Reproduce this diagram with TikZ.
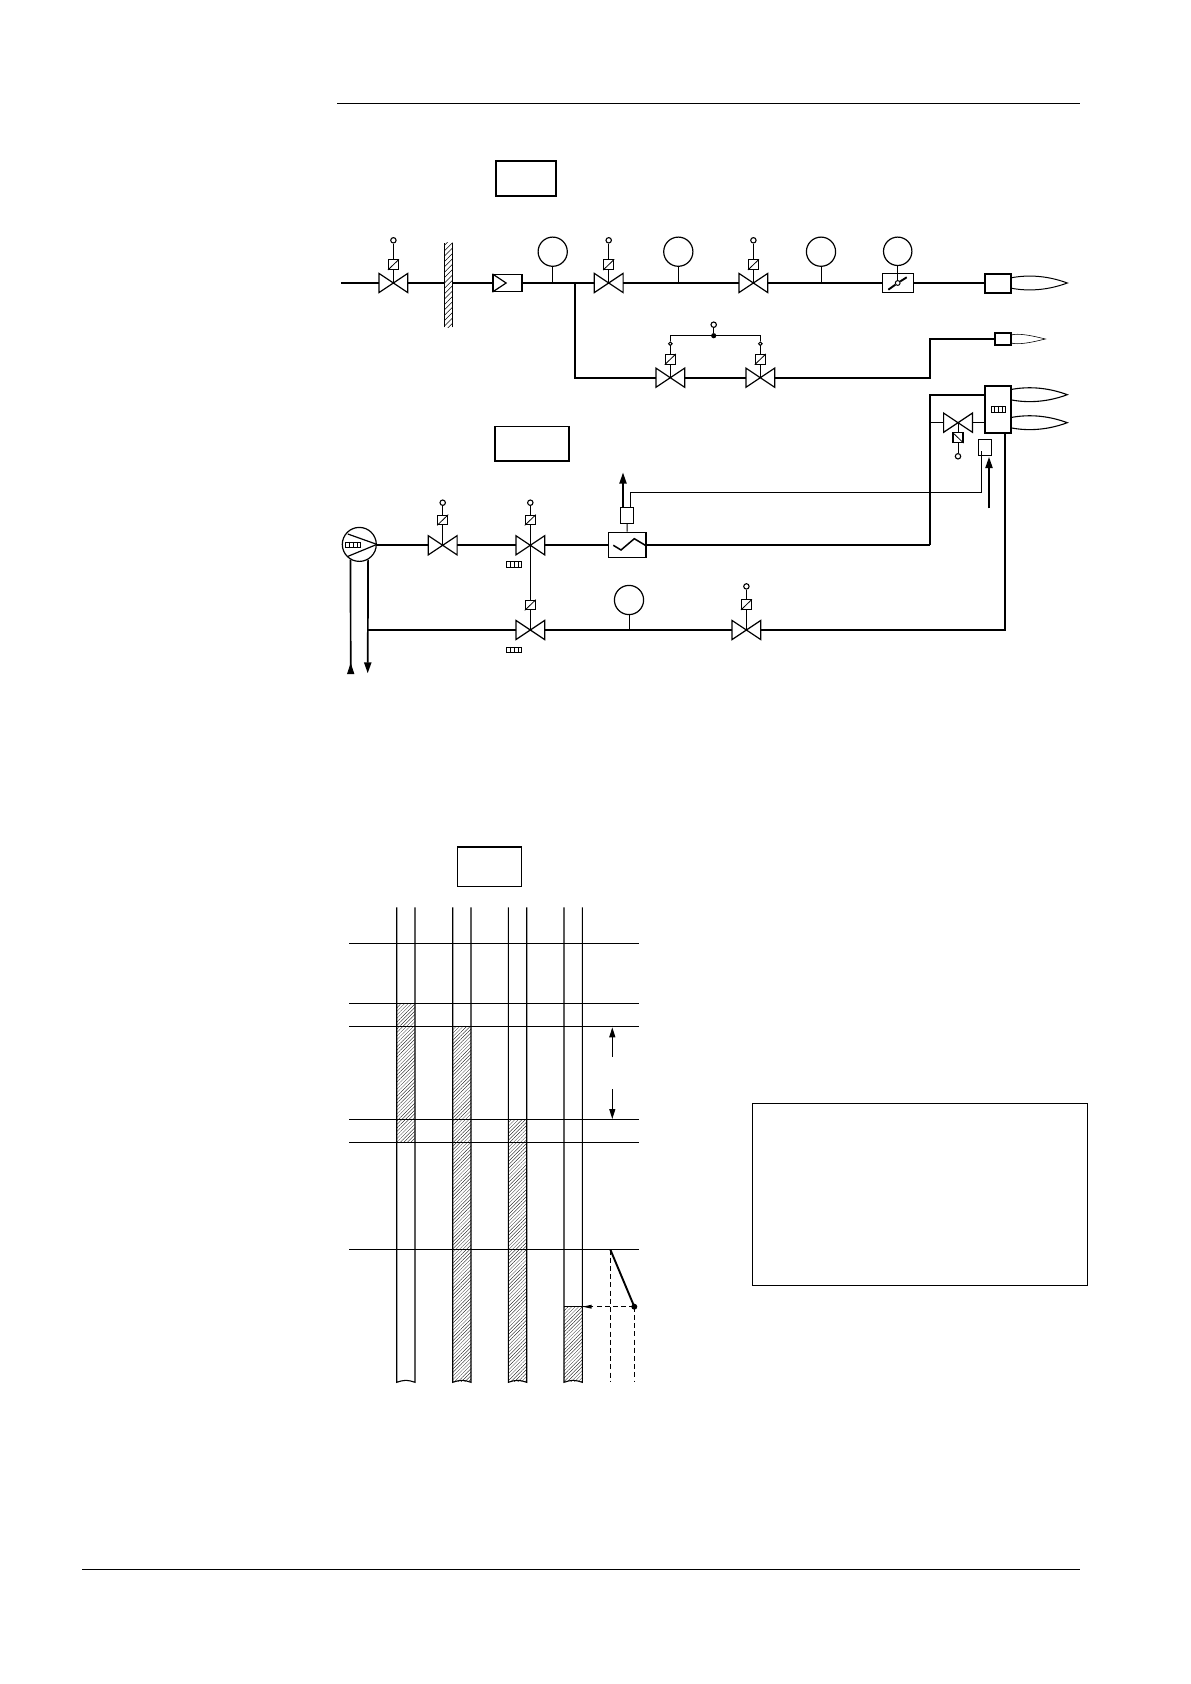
\documentclass[tikz,border=0pt]{standalone}
\usetikzlibrary{arrows.meta,patterns.meta,calc}
\tikzset{
 thinl/.style={line width=0.5pt,black},
 pipe/.style={line width=0.72pt,black},
 fat/.style={line width=0.85pt,black},
 rule/.style={line width=0.42pt,black},
 vbody/.style={inner sep=0pt,minimum width=14pt,minimum height=9.2pt},
 solbox/.style={draw,line width=0.55pt,inner sep=0pt,minimum width=5pt,minimum height=4.8pt},
 opencirc/.style={draw,circle,line width=0.55pt,inner sep=0pt,minimum size=2.7pt,fill=white},
 smallcirc/.style={draw,circle,line width=0.5pt,inner sep=0pt,minimum size=1.8pt,fill=white},
 gauge/.style={draw,circle,line width=0.6pt,inner sep=0pt,minimum size=14.6pt},
 dotn/.style={circle,fill=black,inner sep=0pt,minimum size=2.6pt},
 bankbox/.style={draw,line width=0.45pt,inner sep=0pt,minimum width=7.4pt,minimum height=2.8pt},
 rbox/.style={draw,rectangle,inner sep=0pt,line width=0.6pt},
 hatchfill/.style={pattern={Lines[angle=45,distance=1.25pt,line width=0.14pt]}},
 tip/.style={-{Triangle[length=5.5pt,width=3.6pt]}},
 smalltip/.style={-{Triangle[length=5pt,width=3pt]}},
 dashl/.style={line width=0.5pt,dash pattern=on 2.5pt off 1.6pt},
}
\newcommand{\valvesym}[3]{%
 \node[vbody] (#1) at (#2,#3) {};
 \draw[line width=0.6pt,line join=miter] (#1.north west) -- (#1.south east) -- (#1.north east) -- (#1.south west) -- cycle;
}
\newcommand{\actup}[5]{%
 \node[solbox] (#1) at (#3,#4) {};
 \draw[line width=0.4pt] (#1.south west) -- (#1.north east);
 \node[opencirc] (#2) at (#3,#5) {};
}
\newcommand{\bankicon}[3]{%
 \node[bankbox] (#1) at (#2,#3) {};
 \foreach \k in {0.25,0.5,0.75}{\draw[line width=0.4pt] ($(#1.north west)!\k!(#1.north east)$) -- ($(#1.south west)!\k!(#1.south east)$);}
}
\newcommand{\flamesym}[3]{%
 \draw[line width=#3] (#1,#2-5.3) .. controls +(14,-2.6) and +(-22,-8.2) .. (#1+55.6,#2) .. controls +(-22,8.2) and +(14,2.6) .. (#1,#2+5.3);
}
\begin{document}
\begin{tikzpicture}[x=0.5pt,y=-0.5pt]
\useasboundingbox (0,0) rectangle (1190,1684);
\fill[white] (0,0) rectangle (1190,1684);
% page rules
\coordinate (ra) at (337,103.5); \coordinate (rb) at (1080,103.5);
\draw[rule] (ra) -- (rb);
\coordinate (rc) at (82,1569.5); \coordinate (rd) at (1080,1569.5);
\draw[rule] (rc) -- (rd);
% title boxes
\node[rbox,line width=0.85pt,minimum width=30pt,minimum height=17.5pt] (t1) at (525.7,178.5) {};
\node[rbox,line width=0.85pt,minimum width=37pt,minimum height=17.2pt] (t2) at (531.7,443.8) {};
\node[rbox,line width=0.75pt,minimum width=32.2pt,minimum height=19.6pt] (t3) at (489.5,866.8) {};
\node[rbox,line width=0.5pt,minimum width=167.3pt,minimum height=91pt] (legend) at (920,1194.3) {};

% ---- upper line
\coordinate (s1) at (341,283);
\valvesym{v1}{393.4}{283}
\actup{s1b}{c1}{393.4}{264.7}{240.3}
\draw[thinl] (v1.center) -- (s1b); \draw[thinl] (s1b) -- (c1);
\node[inner sep=0pt,minimum width=3.5pt,minimum height=42pt] (wall) at (448.6,285) {};
\path[pattern={Lines[angle=45,distance=1.9pt,line width=0.24pt]}] (wall.south west) rectangle (wall.north east);
\draw[line width=0.65pt] (wall.south west) -- (wall.north west);
\draw[line width=0.5pt] (wall.south east) -- (wall.north east);
\node[rbox,minimum width=14.5pt,minimum height=8.5pt] (filt) at (507.5,283) {};
\draw[line width=0.6pt] (filt.north west) -- ($(filt.west)+(13.7,0)$) -- (filt.south west);
\node[gauge] (g1) at (552.7,251.7) {};
\coordinate (j1) at (552.7,283);
\coordinate (jb) at (574.7,283);
\valvesym{v2}{608.7}{283}
\actup{s2b}{c2}{608.7}{264.7}{240.3}
\draw[thinl] (v2.center) -- (s2b); \draw[thinl] (s2b) -- (c2);
\node[gauge] (g2) at (678.3,251.7) {};
\coordinate (j2) at (678.3,283);
\valvesym{v3}{753.4}{283}
\actup{s3b}{c3}{753.4}{264.7}{240.3}
\draw[thinl] (v3.center) -- (s3b); \draw[thinl] (s3b) -- (c3);
\node[gauge] (g3) at (821,251.7) {};
\coordinate (j3) at (821,283);
\node[gauge,minimum size=14.2pt] (g4) at (897.7,251.3) {};
\node[rbox,minimum width=15.5pt,minimum height=9.4pt] (damp) at (897.8,283.3) {};
\node[circle,draw,fill=white,line width=0.5pt,inner sep=0pt,minimum size=2.4pt] (pivot) at (897.7,283) {};
\draw[line width=0.95pt] (888.3,289.7) -- (pivot);
\draw[line width=0.95pt] (pivot) -- (906.7,277.3);
\draw[thinl] (g4) -- (pivot);
\node[rbox,line width=1pt,minimum width=13.3pt,minimum height=9.5pt] (bn1) at (998,283.2) {};
\flamesym{1011.7}{283}{0.5pt}
\draw[pipe] (s1) -- (v1.west);
\draw[pipe] (v1.east) -- (wall.west |- v1.east);
\draw[pipe] (wall.east |- v1.east) -- (filt.west);
\draw[pipe] (filt.east) -- (v2.west);
\draw[pipe] (v2.east) -- (v3.west);
\draw[pipe] (v3.east) -- (damp.west |- v3.east);
\draw[pipe] (damp.east |- v3.east) -- (bn1.west |- v3.east);
\draw[thinl] (g1) -- (j1);
\draw[thinl] (g2) -- (j2);
\draw[thinl] (g3) -- (j3);

% ---- pilot line
\valvesym{v4}{670.3}{377.7}
\valvesym{v5}{760.3}{377.7}
\node[solbox] (s4b) at (670.3,359.3) {}; \draw[line width=0.4pt] (s4b.south west) -- (s4b.north east);
\node[solbox] (s5b) at (760.3,359.3) {}; \draw[line width=0.4pt] (s5b.south west) -- (s5b.north east);
\node[smallcirc] (c4) at (670.3,343.7) {};
\node[smallcirc] (c5) at (760.3,343.7) {};
\node[dotn] (jd) at (713.7,335.7) {};
\node[opencirc] (c6) at (713.7,324.7) {};
\draw[thinl] (v4.center) -- (s4b); \draw[thinl] (s4b) -- (c4);
\draw[thinl] (v5.center) -- (s5b); \draw[thinl] (s5b) -- (c5);
\draw[line width=0.5pt] (c4.north) |- (jd.center) -| (c5.north);
\draw[thinl] (jd) -- (c6);
\node[rbox,line width=1pt,minimum width=8.2pt,minimum height=5.7pt] (bn2) at (1002.8,339.2) {};
\draw[line width=0.3pt] (1011,335) .. controls +(8,-2) and +(-14,-3.5) .. (1045.3,339) .. controls +(-14,3.5) and +(8,2) .. (1011,343);
\draw[fat] (jb) |- (v4.west);
\draw[fat] (v4.east) -- (v5.west);
\draw[fat] (v5.east) -- (930,377.7) -- (930,339.2) -- (bn2.west);

% ---- burner block
\node[rbox,line width=1pt,minimum width=13.2pt,minimum height=23.4pt] (bb) at (998.2,409.3) {};
\bankicon{bk0}{998.5}{409.2}
\flamesym{1011.7}{394.7}{0.55pt}
\flamesym{1011.7}{422.7}{0.55pt}
\valvesym{v6}{958}{422.7}
\node[solbox] (s6b) at (958,437.7) {}; \draw[line width=0.4pt] (s6b.north west) -- (s6b.south east);
\node[opencirc] (c7) at (958,456.3) {};
\draw[thinl] (v6.center) -- (s6b); \draw[thinl] (s6b) -- (c7);
\node[rbox,minimum width=6.7pt,minimum height=8pt] (sb) at (985,447.3) {};
\coordinate (arr0) at (989,508.3);
\coordinate (arr1) at (989,457);
\draw[pipe,tip] (arr0) -- (arr1);

% ---- oil line
\node[gauge,minimum size=17pt] (pump) at (359.3,544.4) {};
\draw[line width=0.6pt] (pump.east) -- (347.8,534);
\draw[line width=0.6pt] (pump.east) -- (347.8,556.4);
\bankicon{bk1}{353.3}{545}
\valvesym{v7}{442.7}{545.3}
\actup{s7b}{c8}{442.7}{520}{502.7}
\draw[thinl] (v7.center) -- (s7b); \draw[thinl] (s7b) -- (c8);
\valvesym{v8}{530.3}{545.3}
\actup{s8b}{c9}{530.3}{520}{502.7}
\draw[thinl] (v8.center) -- (s8b); \draw[thinl] (s8b) -- (c9);
\bankicon{bk2}{514.3}{564.3}
\node[rbox,minimum width=18.8pt,minimum height=12.5pt] (heat) at (627.2,544.8) {};
\draw[line width=0.75pt] (heat.west |- 0,545.3) ++(5.5,0) -- ++(7.7,4.7) -- ++(13.3,-11.3) -- ++(11,6.6);
\node[rbox,minimum width=6.7pt,minimum height=7.8pt] (tb) at (627,515.5) {};
\coordinate (tarr0) at (623,507.7);
\coordinate (tarr1) at (623,472.6);
\draw[pipe,tip] (tarr0) -- (tarr1);
\draw[thinl] (tb) -- (heat);
\coordinate (lk) at (630.7,507.7);
\coordinate (lk2) at (630.7,492.3);
\coordinate (lk3) at (981.3,492.3);
\draw[line width=0.55pt] (lk) -- (lk2) -- (lk3) -- (981.3,451.3);
\draw[fat] (pump.east |- 0,545.3) -- (v7.west);
\draw[fat] (v7.east) -- (v8.west);
\draw[fat] (v8.east) -- (heat.west |- 0,545.3);
\coordinate (hb) at (930,545.3);
\draw[fat] (heat.east |- 0,545.3) -- (hb);
\draw[fat] (hb) -- (930,394.7) -- (bb.west |- 0,394.7);
\draw[pipe] (930,422.7) -- (v6.west);
\draw[pipe] (v6.east) -- (bb.west |- 0,422.7);

% ---- return line
\valvesym{v9}{530.3}{630}
\node[solbox] (s9b) at (530.3,605) {}; \draw[line width=0.4pt] (s9b.south west) -- (s9b.north east);
\draw[pipe] (v8.center) -- (s9b);
\draw[thinl] (s9b) -- (v9.center);
\bankicon{bk3}{514.3}{650}
\node[gauge] (g5) at (629,600) {};
\coordinate (j5) at (629,630);
\draw[thinl] (g5) -- (j5);
\valvesym{v10}{746.4}{630}
\actup{s10b}{c10}{746.4}{604.7}{586.4}
\draw[thinl] (v10.center) -- (s10b); \draw[thinl] (s10b) -- (c10);
\coordinate (rj) at (367.7,630);
\draw[fat] (rj) -- (v9.west);
\draw[fat] (v9.east) -- (v10.west);
\coordinate (rc2) at (1005.3,630);
\draw[fat] (v10.east) -- (rc2) -- (rc2 |- bb.south);
\coordinate (pa) at (350.7,673); \coordinate (pat) at (350.7,663);
\coordinate (pb) at (367.7,673.3);
\draw[fat] (pump.-120) -- (pa);
\draw[tip,line width=0.4pt] (pa) -- (pat);
\draw[fat,tip] (pump.-60) -- (pb);

% ---- timing chart
\path[hatchfill] (396.7,1003.5) rectangle (415,1142.5);
\path[hatchfill] (452.7,1026.5) rectangle (471,1381);
\path[hatchfill] (508.3,1119.5) rectangle (526.7,1381);
\path[hatchfill] (564,1306.7) rectangle (582.3,1381);
\foreach \n/\y in {h1/943.5,h2/1003.5,h3/1026.5,h4/1119.5,h5/1142.5,h6/1249.5}{
 \coordinate (\n a) at (349.3,\y);
 \coordinate (\n b) at (639.3,\y);
 \draw[line width=0.55pt] (\n a) -- (\n b);
}
\foreach \n/\x/\z in {a/396.7/415,b/452.7/471,c/508.3/526.7,d/564/582.3}{
 \coordinate (\n t1) at (\x,907.3); \coordinate (\n b1) at (\x,1382.3);
 \coordinate (\n t2) at (\z,907.3); \coordinate (\n b2) at (\z,1382.3);
 \draw[line width=0.55pt] (\n t1) -- (\n b1) .. controls +(3,-1) and +(-3,0) .. ($(\n b1)!0.5!(\n b2)+(0,-2)$) .. controls +(3,0) and +(-3,-1) .. (\n b2) -- (\n t2);
}
\draw[line width=0.55pt] (564,1306.7) -- (582.3,1306.7);
\coordinate (da1) at (612.3,1056.7); \coordinate (da1t) at (612.3,1027.3);
\coordinate (da2) at (612.3,1089); \coordinate (da2t) at (612.3,1119);
\draw[line width=0.6pt,smalltip] (da1) -- (da1t);
\draw[line width=0.6pt,smalltip] (da2) -- (da2t);
\node[dotn,minimum size=3pt] (dp) at (634.3,1306.7) {};
\coordinate (kn) at (610.3,1249.5);
\coordinate (dkb) at (610.3,1382.3);
\coordinate (dpb) at (634.3,1382.3);
\coordinate (dar) at (582.6,1306.7);
\draw[line width=0.95pt] (kn) -- (dp.center);
\draw[dashl] (kn) -- (dkb);
\draw[dashl] (dp.center) -- (dpb);
\draw[dashl] (dp.center) -- (dar);
\fill (dar) -- +(9,-2) -- +(9,2) -- cycle;
\end{tikzpicture}
\end{document}
